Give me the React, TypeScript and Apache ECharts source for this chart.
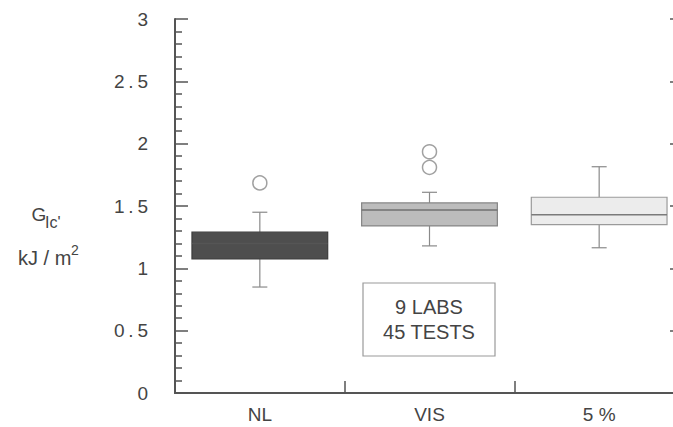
import React, { useEffect, useRef } from "react";
import * as echarts from "echarts";

const categories = ["NL", "VIS", "5 %"];
const mins = [0.85, 1.18, 1.165];
const q1s = [1.075, 1.34, 1.35];
const medians = [1.2, 1.468, 1.43];
const q3s = [1.29, 1.525, 1.57];
const maxs = [1.45, 1.61, 1.815];
const outliers: [number, number][] = [
  [0, 1.685],
  [1, 1.81],
  [1, 1.935],
];
const yTicks = [0, 0.5, 1, 1.5, 2, 2.5, 3];

const boxFills = ["#4e4e4e", "#bcbcbc", "#ececec"];
const boxBorders = ["#3c3c3c", "#858585", "#9a9a9a"];
const medianColors = ["#555555", "#707070", "#7a7a7a"];

const FONT = "Liberation Sans, Arial, sans-serif";
const TXT = "#444";

export default function App() {
  const ref = useRef<HTMLDivElement>(null);
  useEffect(() => {
    document.body.style.margin = "0";
    const chart = echarts.init(ref.current!, null, { renderer: "svg" });
    const boxData = categories.map((_, i) => [i, mins[i], q1s[i], medians[i], q3s[i], maxs[i]]);
    const axisLine = { show: true, lineStyle: { color: "#555", width: 2 } };
    chart.setOption({
      animation: false,
      backgroundColor: "#fff",
      grid: { left: 175, top: 19, width: 509, height: 374 },
      xAxis: [
        {
          type: "category",
          data: categories,
          boundaryGap: true,
          position: "bottom",
          axisLine,
          axisTick: { show: true, inside: true, length: 12, lineStyle: { color: "#555", width: 1.5 } },
          axisLabel: { margin: 12, fontSize: 19, color: TXT, fontFamily: FONT },
          splitLine: { show: false },
        },
        {
          type: "category",
          data: categories,
          position: "top",
          axisLine,
          axisTick: { show: false },
          axisLabel: { show: false },
          splitLine: { show: false },
        },
      ],
      yAxis: [
        {
          type: "value",
          min: yTicks[0],
          max: yTicks[yTicks.length - 1],
          interval: 0.5,
          position: "left",
          axisLine,
          axisTick: { show: true, inside: true, length: 13, lineStyle: { color: "#555", width: 1.5 } },
          minorTick: { show: true, splitNumber: 5, length: 7, lineStyle: { color: "#555", width: 1.5 } },
          axisLabel: {
            margin: 27,
            fontSize: 19,
            color: TXT,
            fontFamily: FONT,
            formatter: (v: number) => String(v).replace(".", "\u2009.\u2009"),
          },
          splitLine: { show: false },
          minorSplitLine: { show: false },
        },
        {
          type: "value",
          min: yTicks[0],
          max: yTicks[yTicks.length - 1],
          interval: 0.5,
          position: "right",
          axisLine,
          axisTick: { show: true, inside: true, length: 14, lineStyle: { color: "#555", width: 1.5 } },
          minorTick: { show: true, splitNumber: 5, length: 7, lineStyle: { color: "#555", width: 1.5 } },
          axisLabel: { show: false },
          splitLine: { show: false },
        },
      ],
      series: [
        {
          type: "custom",
          xAxisIndex: 0,
          yAxisIndex: 0,
          data: boxData,
          renderItem: (params: any, api: any) => {
            const i = api.value(0);
            const lo = api.coord([i, api.value(1)]);
            const q1 = api.coord([i, api.value(2)]);
            const med = api.coord([i, api.value(3)]);
            const q3 = api.coord([i, api.value(4)]);
            const hi = api.coord([i, api.value(5)]);
            const bw = api.size([1, 0])[0] * 0.8;
            const cx = lo[0];
            const cap = 7.5;
            const ws = { stroke: "#8a8a8a", lineWidth: 1.2 };
            return {
              type: "group",
              children: [
                { type: "line", shape: { x1: cx, y1: hi[1], x2: cx, y2: q3[1] }, style: ws },
                { type: "line", shape: { x1: cx, y1: q1[1], x2: cx, y2: lo[1] }, style: ws },
                { type: "line", shape: { x1: cx - cap, y1: hi[1], x2: cx + cap, y2: hi[1] }, style: ws },
                { type: "line", shape: { x1: cx - cap, y1: lo[1], x2: cx + cap, y2: lo[1] }, style: ws },
                {
                  type: "rect",
                  shape: { x: cx - bw / 2, y: q3[1], width: bw, height: q1[1] - q3[1] },
                  style: { fill: boxFills[i], stroke: boxBorders[i], lineWidth: 1.2 },
                },
                {
                  type: "line",
                  shape: { x1: cx - bw / 2, y1: med[1], x2: cx + bw / 2, y2: med[1] },
                  style: { stroke: medianColors[i], lineWidth: 1.5 },
                },
              ],
            };
          },
        },
        {
          type: "scatter",
          xAxisIndex: 0,
          yAxisIndex: 0,
          data: outliers,
          symbol: "circle",
          symbolSize: 14,
          itemStyle: { color: "rgba(255,255,255,0)", borderColor: "#8a8a8a", borderWidth: 1.5 },
        },
      ],
      graphic: [
        {
          type: "rect",
          shape: { x: 363, y: 283, width: 132, height: 73 },
          style: { fill: "#fff", stroke: "#9a9a9a", lineWidth: 1.2 },
        },
        {
          type: "text",
          x: 429,
          y: 307,
          style: { text: "9 LABS", fontSize: 20, fill: TXT, fontFamily: FONT, align: "center", verticalAlign: "middle" },
        },
        {
          type: "text",
          x: 429,
          y: 332,
          style: { text: "45 TESTS", fontSize: 20, fill: TXT, fontFamily: FONT, align: "center", verticalAlign: "middle" },
        },
        {
          type: "text",
          x: 39,
          y: 214,
          style: { text: "G", fontSize: 19, fill: TXT, fontFamily: FONT, align: "center", verticalAlign: "middle" },
        },
        {
          type: "text",
          x: 45,
          y: 222,
          style: { text: "Ic'", fontSize: 16, fill: TXT, fontFamily: FONT, align: "left", verticalAlign: "middle" },
        },
        {
          type: "text",
          x: 18,
          y: 258,
          style: { text: "kJ / m", fontSize: 20, fill: TXT, fontFamily: FONT, align: "left", verticalAlign: "middle" },
        },
        {
          type: "text",
          x: 71,
          y: 250,
          style: { text: "2", fontSize: 14, fill: TXT, fontFamily: FONT, align: "left", verticalAlign: "middle" },
        },
      ],
    });
    return () => chart.dispose();
  }, []);
  return (
    <div style={{ width: 673, height: 427, overflow: "hidden", position: "relative" }}>
      <div ref={ref} style={{ width: 700, height: 427 }} />
    </div>
  );
}
